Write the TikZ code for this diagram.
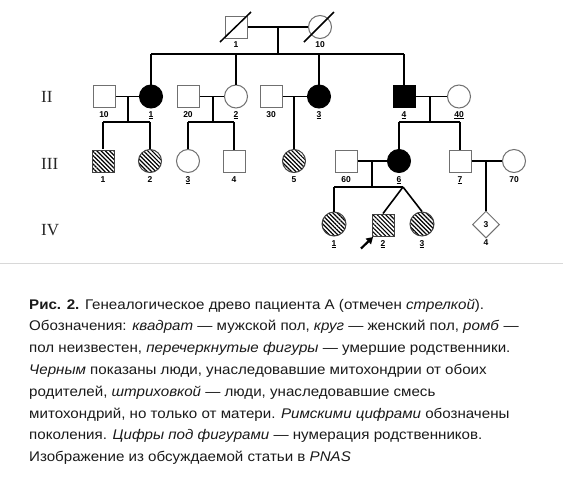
\documentclass[tikz,border=0pt]{standalone}
\usepackage{fontspec}
\setmainfont{Liberation Sans}
\newfontfamily\romanfam{Liberation Serif}
\newfontfamily\capfam[FakeStretch=1.08]{Liberation Sans}
\usetikzlibrary{shapes.geometric,patterns.meta,arrows.meta,calc}
\definecolor{shapegray}{HTML}{707070}
\definecolor{captext}{HTML}{1A1A1A}
\definecolor{rulegray}{HTML}{D8D8D8}
\newcommand{\labfont}{\fontsize{8.5}{9}\selectfont\bfseries}
\newcommand{\genfont}{\romanfam\fontsize{17}{18}\selectfont}
\newcommand{\capfont}{\capfam\fontsize{14}{16}\selectfont}
\begin{document}
\begin{tikzpicture}[x=1pt,y=-1pt,
  conn/.style={line width=1.6pt, black},
  slash/.style={line width=1.5pt, black},
  sq/.style={rectangle, minimum size=22pt, inner sep=0pt, draw=shapegray, line width=1pt},
  ci/.style={circle, minimum size=23pt, inner sep=0pt, draw=shapegray, line width=1pt},
  dm/.style={diamond, minimum size=27pt, inner sep=0pt, draw=shapegray, line width=1pt, font=\labfont},
  aff/.style={fill=black, draw=black},
  hatch/.style={pattern={Lines[angle=-45,distance=3pt,line width=1.2pt]}, draw=black!75},
  lab/.style={font=\labfont, inner sep=0pt, anchor=base},
  gen/.style={font=\genfont, text=black!85, inner sep=0pt, anchor=base west},
  captionline/.style={anchor=base west, inner sep=0pt, font=\capfont, text=captext},
]
\useasboundingbox[fill=white] (0,0) rectangle (563,491);

% generation labels
\node[gen] (gII) at (41,102) {II};
\node[gen] (gIII) at (41,169) {III};
\node[gen] (gIV) at (41,235) {IV};

% ---------- Generation I ----------
\node[sq] (I1) at (236,27) {};
\node[ci] (I10) at (320,27) {};
\draw[slash] ($(I1)+(-16,15)$) -- ($(I1)+(15,-15)$);
\draw[slash] ($(I10)+(-16,15)$) -- ($(I10)+(14,-15)$);
\node[lab] (lI1) at (236,47) {1};
\node[lab] (lI10) at (320,47) {10};

% ---------- Generation II ----------
\node[sq] (II10) at (104,96.5) {};
\node[ci,aff] (II1) at (151,96.5) {};
\node[sq] (II20) at (188,96.5) {};
\node[ci] (II2) at (236,96.5) {};
\node[sq] (II30) at (271,96.5) {};
\node[ci,aff] (II3) at (319,96.5) {};
\node[sq,aff] (II4) at (404,96.5) {};
\node[ci] (II40) at (459,96.5) {};
\node[lab] at (104,117) {10};
\node[lab] at (151,117) {\underline{1}};
\node[lab] at (188,117) {20};
\node[lab] at (236,117) {\underline{2}};
\node[lab] at (271,117) {30};
\node[lab] at (319,117) {\underline{3}};
\node[lab] at (404,117) {\underline{4}};
\node[lab] at (459,117) {\underline{40}};

% ---------- Generation III ----------
\node[sq,hatch] (III1) at (103,161) {};
\node[ci,hatch] (III2) at (150,161) {};
\node[ci] (III3) at (188,161) {};
\node[sq] (III4) at (234,161) {};
\node[ci,hatch] (III5) at (294,161) {};
\node[sq] (III60) at (346,161) {};
\node[ci,aff] (III6) at (399,161) {};
\node[sq] (III7) at (460,161) {};
\node[ci] (III70) at (514,161) {};
\node[lab] at (103,182) {1};
\node[lab] at (150,182) {2};
\node[lab] at (188,182) {\underline{3}};
\node[lab] at (234,182) {4};
\node[lab] at (294,182) {5};
\node[lab] at (346,182) {60};
\node[lab] at (399,182) {\underline{6}};
\node[lab] at (460,182) {\underline{7}};
\node[lab] at (514,182) {70};

% ---------- Generation IV ----------
\node[ci,hatch,minimum size=24pt] (IV1) at (334,224) {};
\node[sq,hatch] (IV2) at (383,225) {};
\node[ci,hatch,minimum size=24pt] (IV3) at (422,224) {};
\node[dm] (IV4) at (486,224.5) {3};
\node[lab] at (334,246) {\underline{1}};
\node[lab] at (383,246) {\underline{2}};
\node[lab] at (422,246) {\underline{3}};
\node[lab] at (486,245.5) {4};

% ---------- connectors ----------
% I
\coordinate (mI) at (278,27);
\coordinate (sI) at (278,54);
\coordinate (sIa) at (151,54);
\coordinate (sIb) at (404,54);
\draw[conn] (I1) -- (I10);
\draw[conn] (mI) -- (sI);
\draw[conn] (sIa) -- (sIb);
\draw[conn] (sIa) -- (II1);
\draw[conn] (II2.north |- sIa) -- (II2.north);
\draw[conn] (II3.north |- sIa) -- (II3.north);
\draw[conn] (sIb) -- (II4);

% II: 10 x 1
\coordinate (m1) at (128,96.5);
\coordinate (s1) at (128,122);
\coordinate (s1a) at (103,122);
\coordinate (s1b) at (150,122);
\draw[conn] (II10) -- (II1);
\draw[conn] (m1) -- (s1);
\draw[conn] (s1a) -- (s1b);
\draw[conn] (s1a) -- (III1);
\draw[conn] (s1b) -- (III2);

% II: 20 x 2
\coordinate (m2) at (213,96.5);
\coordinate (s2) at (213,122);
\coordinate (s2a) at (188,122);
\coordinate (s2b) at (234,122);
\draw[conn] (II20) -- (II2);
\draw[conn] (m2) -- (s2);
\draw[conn] (s2a) -- (s2b);
\draw[conn] (s2a) -- (III3);
\draw[conn] (s2b) -- (III4);

% II: 30 x 3
\coordinate (m3) at (294,96.5);
\draw[conn] (II30) -- (II3);
\draw[conn] (m3) -- (III5);

% II: 4 x 40
\coordinate (m4) at (430,96.5);
\coordinate (s4) at (430,122);
\coordinate (s4a) at (399,122);
\coordinate (s4b) at (460,122);
\draw[conn] (II4) -- (II40);
\draw[conn] (m4) -- (s4);
\draw[conn] (s4a) -- (s4b);
\draw[conn] (s4a) -- (III6);
\draw[conn] (s4b) -- (III7);

% III: 60 x 6
\coordinate (m6) at (372,161);
\coordinate (s6) at (372,187);
\coordinate (s6a) at (334,187);
\coordinate (twin) at (403,187);
\draw[conn] (III60) -- (III6);
\draw[conn] (m6) -- (s6);
\draw[conn] (s6a) -- (twin);
\draw[conn] (s6a) -- (IV1);
\draw[conn] (twin) -- (IV2.north);
\draw[conn] (twin) -- (IV3.north);

% III: 7 x 70
\coordinate (m7) at (486,161);
\draw[conn] (III7) -- (III70);
\draw[conn] (m7) -- (IV4.north);

% proband arrow
\coordinate (arrS) at (361,248.5);
\coordinate (arrE) at (373,237);
\draw[line width=2.2pt, -{Triangle[length=6.5pt,width=7.5pt]}] (arrS) -- (arrE);

% separator
\coordinate (rl) at (0,263);
\coordinate (rr) at (563,263);
\draw[rulegray, line width=1pt] (rl) -- (rr);

% ---------- caption ----------
\node[captionline] (c1) at (29,309) {\textbf{Рис. 2.} Генеалогическое древо пациента А (отмечен \textit{стрелкой}).};
\node[captionline] (c2) at (29,330.8) {Обозначения: \textit{квадрат} — мужской пол, \textit{круг} — женский пол, \textit{ромб} —};
\node[captionline] (c3) at (29,352.6) {пол неизвестен, \textit{перечеркнутые фигуры} — умершие родственники.};
\node[captionline] (c4) at (29,374.4) {\textit{Черным} показаны люди, унаследовавшие митохондрии от обоих};
\node[captionline] (c5) at (29,396.2) {родителей, \textit{штриховкой} — люди, унаследовавшие смесь};
\node[captionline] (c6) at (29,418) {митохондрий, но только от матери. \textit{Римскими цифрами} обозначены};
\node[captionline] (c7) at (29,439.8) {поколения. \textit{Цифры под фигурами} — нумерация родственников.};
\node[captionline] (c8) at (29,461.6) {Изображение из обсуждаемой статьи в \textit{PNAS}};
\end{tikzpicture}
\end{document}
